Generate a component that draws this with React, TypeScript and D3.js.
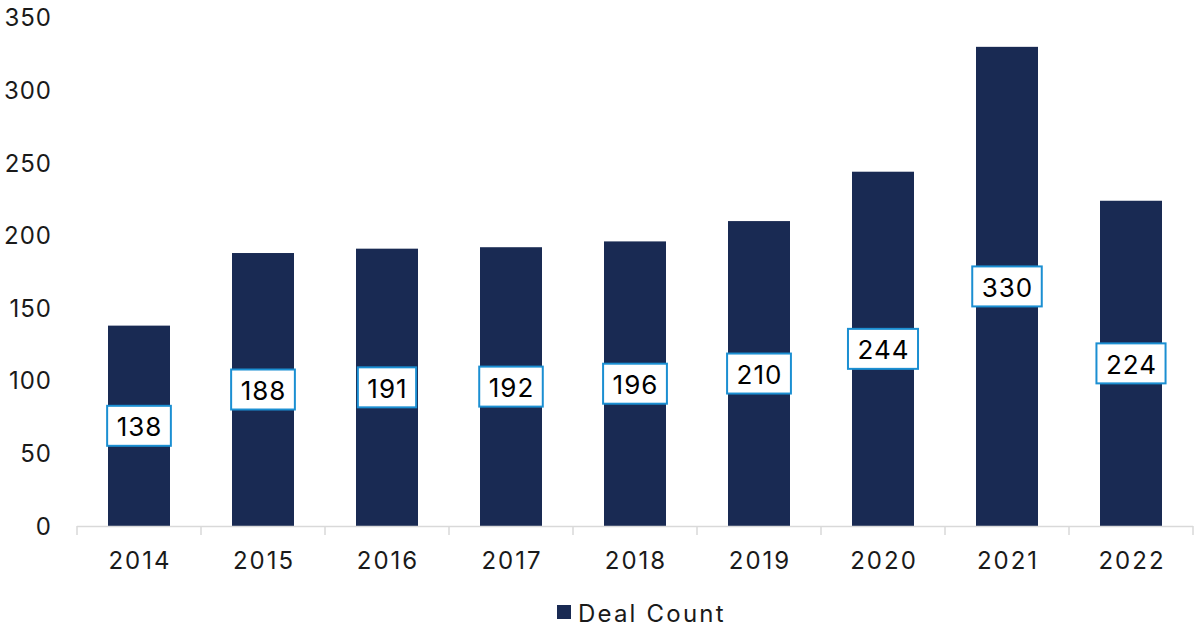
import React from "react";
import * as d3 from "d3";

const categories = ["2014", "2015", "2016", "2017", "2018", "2019", "2020", "2021", "2022"];
const dealCount = [138, 188, 191, 192, 196, 210, 244, 330, 224];
const yTicks = [0, 50, 100, 150, 200, 250, 300, 350];
const seriesName = "Deal Count";

const W = 1197;
const H = 626;
const FONT = "Inter, 'Noto Sans', sans-serif";

function textWidth(s: string, size: number) {
  if (typeof document === "undefined") return s.length * size * 0.6;
  const c = document.createElement("canvas").getContext("2d")!;
  c.font = `${size}px Inter`;
  return c.measureText(s).width;
}

export default function App() {
  const x = d3.scaleBand<string>().domain(categories).range([77, 1193]).paddingInner(0.5).paddingOuter(0.25);
  const y = d3.scaleLinear().domain([0, 350]).range([526, 17.8]);
  const band = (1193 - 77) / categories.length;
  const labelSize = 26;
  const labelLS = 1;
  return (
    <svg width={W} height={H} style={{ position: "absolute", left: 0, top: 0, background: "#fff" }}>
      {yTicks.map((t) => (
        <text key={t} x={52} y={y(t)} textAnchor="end" dominantBaseline="central" fontFamily={FONT} fontSize={24} letterSpacing={1} fill="#1a1a1a">
          {t}
        </text>
      ))}
      {dealCount.map((v, i) => (
        <rect key={i} x={x(categories[i])} y={y(v)} width={x.bandwidth()} height={y(0) - y(v)} fill="#192a53" />
      ))}
      <line x1={77} x2={1193} y1={526.5} y2={526.5} stroke="#d9d9d9" strokeWidth={1.5} />
      {d3.range(categories.length + 1).map((i) => (
        <line key={i} x1={77 + i * band} x2={77 + i * band} y1={526} y2={535} stroke="#d9d9d9" strokeWidth={1.5} />
      ))}
      {categories.map((c) => (
        <text key={c} x={x(c)! + x.bandwidth() / 2 + 1} y={560} textAnchor="middle" dominantBaseline="central" fontFamily={FONT} fontSize={24} letterSpacing={2} fill="#1a1a1a">
          {c}
        </text>
      ))}
      {dealCount.map((v, i) => {
        const cx = x(categories[i])! + x.bandwidth() / 2;
        const cy = (y(v) + y(0)) / 2;
        const tw = textWidth(String(v), labelSize) + labelLS * 2;
        const bw = tw + 19;
        return (
          <g key={i}>
            <rect x={cx - bw / 2} y={cy - 20} width={bw} height={40} fill="#fff" stroke="#1b8fd2" strokeWidth={2} />
            <text x={cx + labelLS / 2} y={cy + 1} textAnchor="middle" dominantBaseline="central" fontFamily={FONT} fontSize={labelSize} letterSpacing={labelLS} fill="#000">
              {v}
            </text>
          </g>
        );
      })}
      <rect x={557} y={605} width={14} height={14} fill="#192a53" />
      <text x={578} y={613} dominantBaseline="central" fontFamily={FONT} fontSize={24} letterSpacing={2.2} fill="#1a1a1a">
        {seriesName}
      </text>
    </svg>
  );
}
